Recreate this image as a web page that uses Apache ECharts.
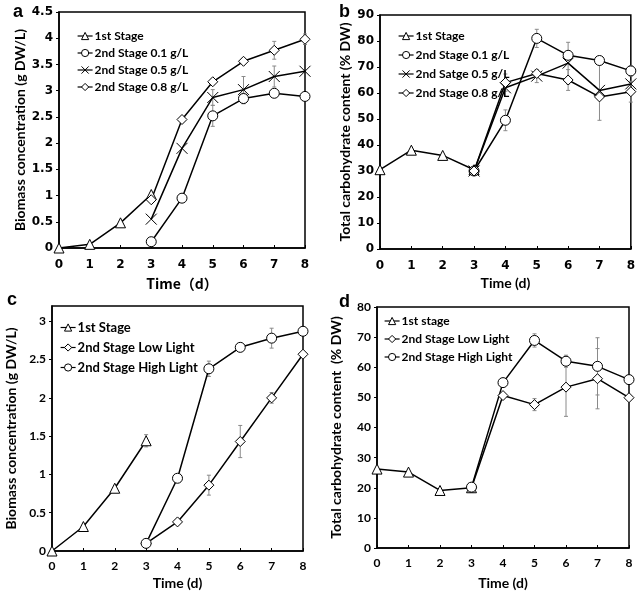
<!DOCTYPE html>
<html>
<head>
<meta charset="utf-8">
<script src="https://cdn.jsdelivr.net/npm/echarts@6/dist/echarts.min.js"></script>
<style>
  html, body { margin: 0; padding: 0; background: #fff; }
  #chart { width: 638px; height: 591px; }
</style>
</head>
<body>
<div id="chart"></div>
<script>
// days: 1st stage runs 0-3, 2nd stage 3-8
const days1 = [0, 1, 2, 3]
const days2 = [3, 4, 5, 6, 7, 8]

// panel a: biomass vs nitrate
const aStage1 = [0.0, 0.07, 0.48, 1.02]
const a01 = [0.12, 0.95, 2.52, 2.85, 2.95, 2.89]
const a01Err = [0, 0, 0.2, 0.1, 0.07, 0]
const a05 = [0.55, 1.9, 2.87, 3.02, 3.27, 3.37]
const a05Err = [0, 0, 0.15, 0.25, 0.2, 0]
const a08 = [0.92, 2.45, 3.17, 3.56, 3.77, 3.98]
const a08Err = [0, 0, 0.05, 0.05, 0.17, 0.1]

// panel b: carbohydrate vs nitrate
const bStage1 = [30.5, 38, 36, 30.5]
const b01 = [30, 49.5, 81, 74.5, 72.5, 68.5]
const b01Err = [0, 4, 3.5, 0, 0, 2]
const b05 = [30, 62, 66.5, 71.5, 61, 63.5]
const b05Err = [0, 0, 2.5, 8, 11.5, 0]
const b08 = [30, 64, 67.5, 65, 58.5, 60.5]
const b08Err = [0, 3.3, 0, 4, 0, 4]

// panel c: biomass vs light
const cStage1 = [0, 0.32, 0.82, 1.44]
const cStage1Err = [0, 0, 0, 0.08]
const cLow = [0.1, 0.38, 0.86, 1.43, 2.0, 2.57]
const cLowErr = [0, 0.03, 0.13, 0.21, 0.07, 0]
const cHigh = [0.1, 0.95, 2.38, 2.66, 2.78, 2.87]
const cHighErr = [0, 0, 0.1, 0.03, 0.13, 0]

// panel d: carbohydrate vs light
const dStage1 = [26.2, 25.2, 19.1, 20]
const dHigh = [20.2, 54.9, 68.9, 62, 60.3, 55.9]
const dHighErr = [0, 0, 2.2, 2, 9.5, 0]
const dLow = [20, 50.6, 47.6, 53.4, 56.2, 49.9]
const dLowErr = [0, 0, 2, 9.7, 10, 0]

const CROSS = 'path://M0,0L10,10M10,0L0,10'

const pairs = (xs, ys) => xs.map((x, i) => [x, ys[i]])

function lineSeries(name, idx, xs, ys, symbol) {
  return {
    name, type: 'line', xAxisIndex: idx, yAxisIndex: idx,
    data: pairs(xs, ys),
    symbol, symbolSize: symbol === CROSS ? 11 : 10,
    showAllSymbol: true,
    lineStyle: { color: '#000', width: 1.5 },
    itemStyle: { color: '#fff', borderColor: '#000', borderWidth: 1 },
    z: 3,
  }
}

function errSeries(idx, xs, ys, errs) {
  const data = []
  xs.forEach((x, i) => { if (errs[i] > 0) data.push([x, ys[i], errs[i]]) })
  return {
    type: 'custom', xAxisIndex: idx, yAxisIndex: idx, z: 1,
    silent: true,
    data,
    renderItem: (params, api) => {
      const x = api.value(0), y = api.value(1), e = api.value(2)
      const top = api.coord([x, y + e])
      const bot = api.coord([x, y - e])
      const st = { stroke: '#8a8a8a', lineWidth: 1 }
      return {
        type: 'group',
        children: [
          { type: 'line', shape: { x1: top[0], y1: top[1], x2: bot[0], y2: bot[1] }, style: st },
          { type: 'line', shape: { x1: top[0] - 2, y1: top[1], x2: top[0] + 2, y2: top[1] }, style: st },
          { type: 'line', shape: { x1: bot[0] - 2, y1: bot[1], x2: bot[0] + 2, y2: bot[1] }, style: st },
        ],
      }
    },
  }
}

const verdana = 'DejaVu Sans'
const calibri = 'Lato'

function xAxis(idx, name, labelFont, nameFont, margin, gap) {
  return {
    type: 'value', gridIndex: idx, min: 0, max: 8, interval: 1,
    name, nameLocation: 'middle', nameGap: gap,
    nameTextStyle: { fontFamily: nameFont, fontWeight: 'bold', fontSize: 14, color: '#000' },
    axisLine: { lineStyle: { color: '#000', width: 1.5 } },
    axisTick: { inside: true, length: 3, lineStyle: { color: '#000' } },
    axisLabel: { fontFamily: labelFont, fontWeight: 'bold', fontSize: 12, color: '#000', margin },
    splitLine: { show: false },
  }
}

function yAxis(idx, max, interval, name, labelFont, gap) {
  return {
    type: 'value', gridIndex: idx, min: 0, max, interval,
    name, nameLocation: 'middle', nameGap: gap, nameRotate: 90,
    nameTextStyle: { fontFamily: calibri, fontWeight: 'bold', fontSize: 14, color: '#000' },
    axisLine: { lineStyle: { color: '#000', width: 1.5 } },
    axisTick: { length: 3, lineStyle: { color: '#000' } },
    axisLabel: { fontFamily: labelFont, fontWeight: 'bold', fontSize: 12, color: '#000', margin: 6, showMaxLabel: max % interval === 0 },
    splitLine: { show: false },
  }
}

function legend(names, left, top, gap, size) {
  return {
    data: names, orient: 'vertical', left, top, itemGap: gap,
    itemWidth: 15, itemHeight: 9,
    itemStyle: { color: '#fff', borderColor: '#000', borderWidth: 1 },
    lineStyle: { width: 1.2 },
    textStyle: { fontFamily: calibri, fontWeight: 'bold', fontSize: size, color: '#000', padding: [0, 0, 0, -3] },
    inactiveColor: '#000',
  }
}

const chart = echarts.init(document.getElementById('chart'))
chart.setOption({
  animation: false,
  title: [
    { text: 'a', left: 8, top: -2 },
    { text: 'b', left: 334, top: -2 },
    { text: 'c', left: 2, top: 286 },
    { text: 'd', left: 334, top: 288 },
  ].map(t => ({ ...t, textStyle: { fontFamily: 'Liberation Sans', fontWeight: 'bold', fontSize: 18, color: '#000' } })),
  grid: [
    { left: 59, top: 12, width: 246, height: 236 },
    { left: 380, top: 15, width: 251, height: 234 },
    { left: 52, top: 306, width: 251, height: 246 },
    { left: 377, top: 307, width: 252, height: 241 },
  ].map(g => ({ ...g, show: true, borderColor: '#000', borderWidth: 1.5, backgroundColor: 'transparent' })),
  xAxis: [
    xAxis(0, 'Time\uff08d\uff09', verdana, 'Noto Sans CJK SC', 11, 29),
    xAxis(1, 'Time (d)', verdana, calibri, 11, 27),
    xAxis(2, 'Time (d)', calibri, calibri, 9, 25),
    xAxis(3, 'Time (d)', calibri, calibri, 9, 28),
  ],
  yAxis: [
    yAxis(0, 4.5, 0.5, 'Biomass concentration (g DW/L)', verdana, 30),
    yAxis(1, 90, 10, 'Total carbohydrate content (% DW)', verdana, 28),
    yAxis(2, 3.2, 0.5, 'Biomass concentration (g DW/L)', calibri, 34),
    yAxis(3, 80, 10, 'Total carbohydrate content  (% DW)', calibri, 34),
  ],
  legend: [
    legend(['1st Stage', '2nd Stage 0.1 g/L', '2nd Stage 0.5 g/L', '2nd Stage 0.8 g/L'], 72, 25, 5, 12),
    legend(['1st Stage ', '2nd Stage 0.1 g/L ', '2nd Satge 0.5 g/L', '2nd Stage 0.8 g/L '], 393, 25, 7, 12),
    legend(['1st Stage  ', '2nd Stage Low Light', '2nd Stage High Light'], 55, 316, 7, 13),
    legend(['1st stage', '2nd Stage Low Light ', '2nd Stage High Light '], 379, 310, 6, 12),
  ],
  series: [
    errSeries(0, days2, a01, a01Err),
    errSeries(0, days2, a05, a05Err),
    errSeries(0, days2, a08, a08Err),
    lineSeries('1st Stage', 0, days1, aStage1, 'triangle'),
    lineSeries('2nd Stage 0.1 g/L', 0, days2, a01, 'circle'),
    lineSeries('2nd Stage 0.5 g/L', 0, days2, a05, CROSS),
    lineSeries('2nd Stage 0.8 g/L', 0, days2, a08, 'diamond'),

    errSeries(1, days2, b01, b01Err),
    errSeries(1, days2, b05, b05Err),
    errSeries(1, days2, b08, b08Err),
    lineSeries('1st Stage ', 1, days1, bStage1, 'triangle'),
    lineSeries('2nd Stage 0.1 g/L ', 1, days2, b01, 'circle'),
    lineSeries('2nd Satge 0.5 g/L', 1, days2, b05, CROSS),
    lineSeries('2nd Stage 0.8 g/L ', 1, days2, b08, 'diamond'),

    errSeries(2, days1, cStage1, cStage1Err),
    errSeries(2, days2, cLow, cLowErr),
    errSeries(2, days2, cHigh, cHighErr),
    lineSeries('1st Stage  ', 2, days1, cStage1, 'triangle'),
    lineSeries('2nd Stage Low Light', 2, days2, cLow, 'diamond'),
    lineSeries('2nd Stage High Light', 2, days2, cHigh, 'circle'),

    errSeries(3, days2, dHigh, dHighErr),
    errSeries(3, days2, dLow, dLowErr),
    lineSeries('1st stage', 3, days1, dStage1, 'triangle'),
    lineSeries('2nd Stage Low Light ', 3, days2, dLow, 'diamond'),
    lineSeries('2nd Stage High Light ', 3, days2, dHigh, 'circle'),
  ],
})
</script>
</body>
</html>
